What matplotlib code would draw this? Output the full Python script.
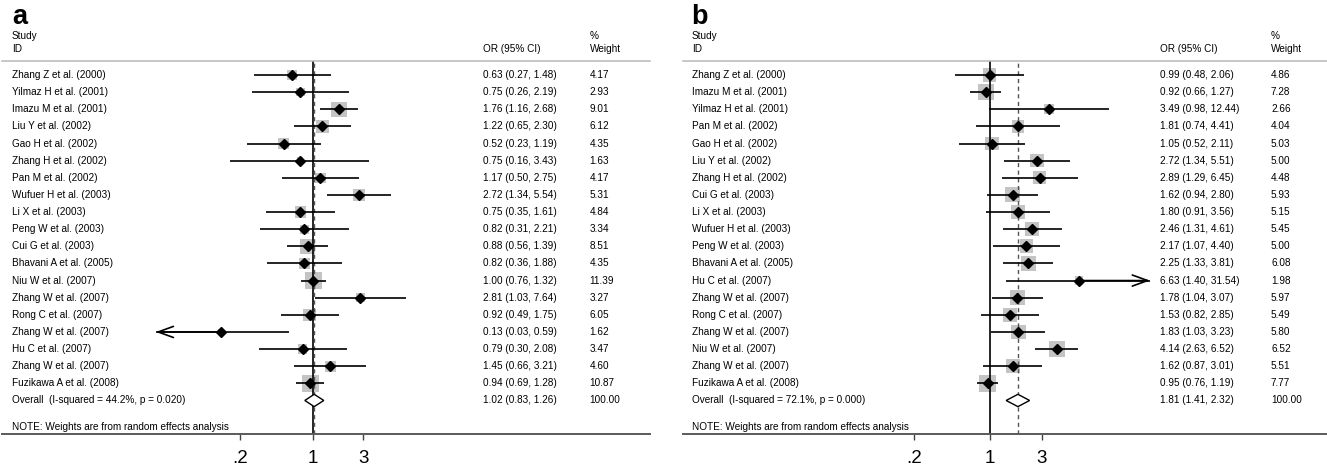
import matplotlib
matplotlib.use("Agg")
import matplotlib.pyplot as plt
from matplotlib.transforms import blended_transform_factory
from matplotlib.lines import Line2D
import numpy as np

plt.rcParams["font.family"] = ["Liberation Sans", "DejaVu Sans"]

# ---- Panel a ----
studies_a = [
    "Zhang Z et al. (2000)", "Yilmaz H et al. (2001)", "Imazu M et al. (2001)",
    "Liu Y et al. (2002)", "Gao H et al. (2002)", "Zhang H et al. (2002)",
    "Pan M et al. (2002)", "Wufuer H et al. (2003)", "Li X et al. (2003)",
    "Peng W et al. (2003)", "Cui G et al. (2003)", "Bhavani A et al. (2005)",
    "Niu W et al. (2007)", "Zhang W et al. (2007)", "Rong C et al. (2007)",
    "Zhang W et al. (2007)", "Hu C et al. (2007)", "Zhang W et al. (2007)",
    "Fuzikawa A et al. (2008)",
]
or_a = [0.63, 0.75, 1.76, 1.22, 0.52, 0.75, 1.17, 2.72, 0.75, 0.82, 0.88, 0.82,
        1.00, 2.81, 0.92, 0.13, 0.79, 1.45, 0.94]
lo_a = [0.27, 0.26, 1.16, 0.65, 0.23, 0.16, 0.50, 1.34, 0.35, 0.31, 0.56, 0.36,
        0.76, 1.03, 0.49, 0.03, 0.30, 0.66, 0.69]
hi_a = [1.48, 2.19, 2.68, 2.30, 1.19, 3.43, 2.75, 5.54, 1.61, 2.21, 1.39, 1.88,
        1.32, 7.64, 1.75, 0.59, 2.08, 3.21, 1.28]
wt_a = [4.17, 2.93, 9.01, 6.12, 4.35, 1.63, 4.17, 5.31, 4.84, 3.34, 8.51, 4.35,
        11.39, 3.27, 6.05, 1.62, 3.47, 4.60, 10.87]
overall_a = [1.02, 0.83, 1.26]
overall_label_a = "Overall  (I-squared = 44.2%, p = 0.020)"

# ---- Panel b ----
studies_b = [
    "Zhang Z et al. (2000)", "Imazu M et al. (2001)", "Yilmaz H et al. (2001)",
    "Pan M et al. (2002)", "Gao H et al. (2002)", "Liu Y et al. (2002)",
    "Zhang H et al. (2002)", "Cui G et al. (2003)", "Li X et al. (2003)",
    "Wufuer H et al. (2003)", "Peng W et al. (2003)", "Bhavani A et al. (2005)",
    "Hu C et al. (2007)", "Zhang W et al. (2007)", "Rong C et al. (2007)",
    "Zhang W et al. (2007)", "Niu W et al. (2007)", "Zhang W et al. (2007)",
    "Fuzikawa A et al. (2008)",
]
or_b = [0.99, 0.92, 3.49, 1.81, 1.05, 2.72, 2.89, 1.62, 1.80, 2.46, 2.17, 2.25,
        6.63, 1.78, 1.53, 1.83, 4.14, 1.62, 0.95]
lo_b = [0.48, 0.66, 0.98, 0.74, 0.52, 1.34, 1.29, 0.94, 0.91, 1.31, 1.07, 1.33,
        1.40, 1.04, 0.82, 1.03, 2.63, 0.87, 0.76]
hi_b = [2.06, 1.27, 12.44, 4.41, 2.11, 5.51, 6.45, 2.80, 3.56, 4.61, 4.40, 3.81,
        31.54, 3.07, 2.85, 3.23, 6.52, 3.01, 1.19]
wt_b = [4.86, 7.28, 2.66, 4.04, 5.03, 5.00, 4.48, 5.93, 5.15, 5.45, 5.00, 6.08,
        1.98, 5.97, 5.49, 5.80, 6.52, 5.51, 7.77]
overall_b = [1.81, 1.41, 2.32]
overall_label_b = "Overall  (I-squared = 72.1%, p = 0.000)"

tick_vals = [0.2, 1, 3]
tick_labels = [".2", "1", "3"]
note_text = "NOTE: Weights are from random effects analysis"

W, H = 1327, 468
fig = plt.figure(figsize=(W / 100, H / 100), dpi=100)

ROW0, ROWSTEP = 75.0, 17.13      # pixel y of first row, row spacing
TOP_PX, BOT_PX = 61.0, 434.3     # header rule and axis rule
FS = 7.2


def draw_panel(letter, studies, ors, los, his, wts, overall, overall_label,
               plot_px, xlim, text_x, rule_x):
    x0, x1 = plot_px
    ax = fig.add_axes([x0 / W, 1 - BOT_PX / H, (x1 - x0) / W, (BOT_PX - TOP_PX) / H])
    ax.set_xscale("log")
    ax.set_xlim(*xlim)
    ytop = (TOP_PX - ROW0) / ROWSTEP
    ybot = (BOT_PX - ROW0) / ROWSTEP
    ax.set_ylim(ybot, ytop)
    for s in ax.spines.values():
        s.set_visible(False)
    ax.set_yticks([])
    ax.set_xticks(tick_vals)
    ax.set_xticklabels(tick_labels)
    ax.xaxis.set_minor_locator(matplotlib.ticker.NullLocator())
    ax.tick_params(axis="x", direction="out", length=4.3, width=1.0,
                   color="#444444", labelsize=13.5, pad=7)

    n = len(studies)
    rows = np.arange(n)
    tr = blended_transform_factory(fig.transFigure, ax.transData)
    lx, orx, wx = text_x

    # reference lines: null effect and pooled estimate
    ax.axvline(1, color="black", lw=1.2, zorder=3)
    ax.axvline(overall[0], color="#555555", lw=1.0, ls=(0, (3, 2.5)), zorder=3)

    # weight boxes
    wmax = max(wts)
    side_px = 17.0 * np.sqrt(np.array(wts) / wmax)
    ax.scatter(ors, rows, s=(side_px * 0.72) ** 2, marker="s",
               color="#c4c4c4", edgecolor="none", zorder=2)

    # confidence intervals, with arrows where they leave the plotted range
    for i in range(n):
        lo_c = max(los[i], xlim[0])
        hi_c = min(his[i], xlim[1])
        ax.plot([lo_c, hi_c], [i, i], color="black", lw=1.2,
                solid_capstyle="butt", zorder=4)
        arrow = dict(arrowstyle="->,head_length=1.1,head_width=0.4", lw=1.2,
                     color="black", shrinkA=0, shrinkB=0)
        if los[i] < xlim[0]:
            ax.annotate("", xy=(xlim[0], i), xytext=(ors[i], i),
                        arrowprops=arrow, annotation_clip=False, zorder=4)
        if his[i] > xlim[1]:
            ax.annotate("", xy=(xlim[1], i), xytext=(ors[i], i),
                        arrowprops=arrow, annotation_clip=False, zorder=4)

    ax.plot(ors, rows, ls="none", marker="D", markersize=5.0,
            color="black", zorder=5)

    # pooled diamond
    est, olo, ohi = overall
    yo = n
    h = 0.36
    ax.fill([olo, est, ohi, est, olo], [yo, yo - h, yo, yo + h, yo],
            facecolor="white", edgecolor="black", lw=1.0, zorder=6)

    # text columns
    for i in range(n):
        fig.text(lx / W, i, studies[i], transform=tr, fontsize=FS, va="center", ha="left")
        fig.text(orx / W, i, f"{ors[i]:.2f} ({los[i]:.2f}, {his[i]:.2f})",
                 transform=tr, fontsize=FS, va="center", ha="left")
        fig.text(wx / W, i, f"{wts[i]:.2f}", transform=tr, fontsize=FS,
                 va="center", ha="left")
    fig.text(lx / W, yo, overall_label, transform=tr, fontsize=FS, va="center")
    fig.text(orx / W, yo, f"{est:.2f} ({olo:.2f}, {ohi:.2f})", transform=tr,
             fontsize=FS, va="center")
    fig.text(wx / W, yo, f"{100:.2f}", transform=tr, fontsize=FS, va="center")
    fig.text(lx / W, (426.7 - ROW0) / ROWSTEP, note_text, transform=tr,
             fontsize=FS, va="center")

    # headers
    y_h1 = (36.0 - ROW0) / ROWSTEP
    y_h2 = (48.6 - ROW0) / ROWSTEP
    fig.text(lx / W, y_h1, "Study", transform=tr, fontsize=FS, va="center")
    fig.text(lx / W, y_h2, "ID", transform=tr, fontsize=FS, va="center")
    fig.text(orx / W, y_h2, "OR (95% CI)", transform=tr, fontsize=FS, va="center")
    fig.text(wx / W, y_h1, "%", transform=tr, fontsize=FS, va="center")
    fig.text(wx / W, y_h2, "Weight", transform=tr, fontsize=FS, va="center")
    fig.text(lx / W, 1 - 24.0 / H, letter, fontsize=19.5, fontweight="bold",
             va="baseline", ha="left")

    # horizontal rules
    r0, r1 = rule_x
    fig.add_artist(Line2D([r0 / W, r1 / W], [ytop, ytop], transform=tr,
                          color="#b8b8b8", lw=1.1))
    fig.add_artist(Line2D([r0 / W, r1 / W], [ybot, ybot], transform=tr,
                          color="#5a5a5a", lw=1.4))
    return ax


draw_panel("a", studies_a, or_a, lo_a, hi_a, wt_a, overall_a, overall_label_a,
           plot_px=(155.7, 470.9), xlim=(0.031, 1 / 0.031),
           text_x=(12, 483.5, 589.5), rule_x=(2, 650))
draw_panel("b", studies_b, or_b, lo_b, hi_b, wt_b, overall_b, overall_label_b,
           plot_px=(830.0, 1150.0), xlim=(1 / 30, 30),
           text_x=(691.7, 1160, 1271), rule_x=(682.7, 1327))

fig.savefig("out.png", dpi=100)
